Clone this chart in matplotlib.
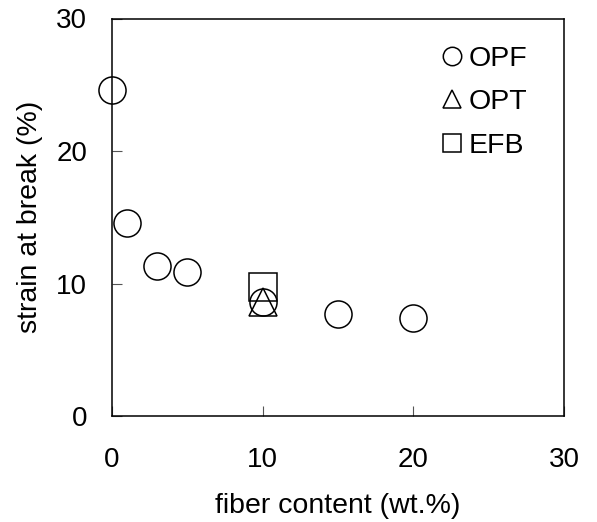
import matplotlib
matplotlib.use("Agg")
import matplotlib.pyplot as plt

plt.rcParams['font.family'] = ['Liberation Sans', 'DejaVu Sans']

opf_x = [0, 1, 3, 5, 10, 15, 20]
opf_y = [24.6, 14.6, 11.3, 10.9, 8.6, 7.7, 7.4]
opt_x = [10]
opt_y = [8.6]
efb_x = [10]
efb_y = [9.7]

xticks = [0, 10, 20, 30]
yticks = [0, 10, 20, 30]

fig = plt.figure(figsize=(5.97, 5.22), dpi=100)
ax = fig.add_axes([112/597, 1-416/522, (564-112)/597, (416-18.5)/522])

ms = 19.5
ax.plot(efb_x, efb_y, linestyle='none', marker='s', ms=ms, mfc='white', mec='black', mew=1.1, label='EFB', zorder=3, clip_on=False)
ax.plot(opt_x, opt_y, linestyle='none', marker='^', ms=ms, mfc='none', mec='black', mew=1.1, label='OPT', zorder=4, clip_on=False)
ax.plot(opf_x, opf_y, linestyle='none', marker='o', ms=ms, mfc='none', mec='black', mew=1.1, label='OPF', zorder=5, clip_on=False)

ax.set_xlim(0, 30)
ax.set_ylim(0, 30)
ax.set_xticks(xticks)
ax.set_yticks(yticks)
ax.tick_params(axis='both', direction='in', length=7, width=0.8, color='#555555', labelsize=20)
ax.tick_params(axis='x', pad=22)
ax.tick_params(axis='y', pad=18)
for s in ax.spines.values():
    s.set_linewidth(1.1)
    s.set_zorder(6)

ax.set_xlabel('fiber content (wt.%)', fontsize=20.5, labelpad=15)
ax.set_ylabel('strain at break (%)', fontsize=20.5, labelpad=9)

h, l = ax.get_legend_handles_labels()
order = [2, 1, 0]
ax.legend([h[i] for i in order], [l[i] for i in order], loc='upper right',
          bbox_to_anchor=(0.945, 0.96), frameon=False, fontsize=20.5, markerscale=0.68,
          handlelength=0.6, handletextpad=0.3, labelspacing=0.62, borderaxespad=0)

fig.savefig('out.png', dpi=100)
